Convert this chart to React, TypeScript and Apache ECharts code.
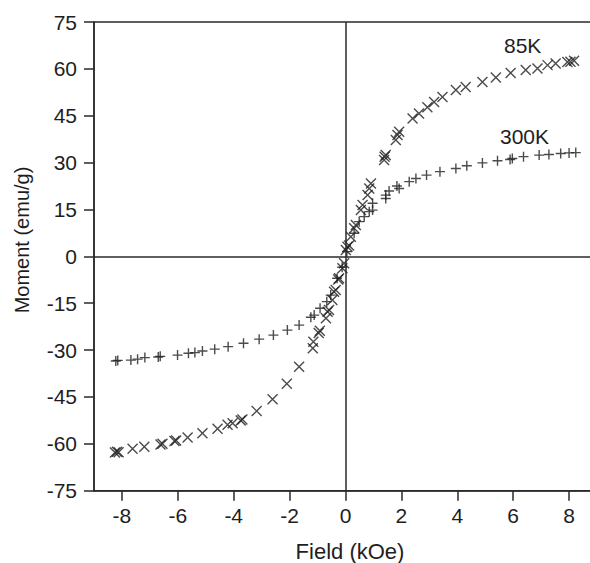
import React, { useEffect, useRef } from "react";
import * as echarts from "echarts";

// Magnetization loops: moment vs applied field at two temperatures
const field85K = [
  -8.25, -8.18, -8.12, -7.62, -7.2, -6.62, -6.55, -6.12, -6.06, -5.65, -5.12, -4.58, -4.22, -4.04,
  -3.75, -3.69, -3.18, -2.61, -2.1, -1.66, -1.17, -1.15, -0.96, -0.92, -0.7, -0.64, -0.59, -0.47,
  -0.41, -0.35, -0.26, -0.23, -0.11, -0.05, 0.01, 0.07, 0.13, 0.19, 0.31, 0.37, 0.55, 0.61, 0.79,
  0.85, 0.91, 1.38, 1.4, 1.44, 1.8, 1.86, 1.92, 2.4, 2.63, 2.93, 3.17, 3.47, 3.95, 4.3, 4.9, 5.38,
  5.91, 6.45, 6.87, 7.23, 7.52, 7.94, 8.05, 8.18,
];
const moment85K = [
  -62.8, -62.5, -62.7, -61.6, -60.9, -60.2, -60.0, -59.1, -58.9, -58.0, -56.6, -55.2, -53.9, -53.4,
  -52.5, -52.2, -49.5, -45.7, -40.8, -35.3, -29.4, -27.3, -24.5, -23.8, -19.8, -17.7, -17.2, -14.0,
  -11.3, -10.8, -7.4, -7.0, -3.8, -2.2, 2.0, 3.1, 3.5, 6.3, 9.0, 10.0, 14.8, 16.4, 19.6, 21.7, 23.3,
  30.8, 31.9, 32.4, 37.2, 38.8, 39.9, 44.1, 45.7, 47.7, 49.4, 51.0, 53.2, 54.2, 55.8, 57.2, 58.7,
  59.6, 60.1, 61.2, 61.7, 62.2, 62.3, 62.6,
];

const field300K = [
  -8.22, -8.15, -7.68, -7.44, -7.18, -6.7, -6.63, -6.01, -5.62, -5.39, -5.12, -4.68, -4.2, -3.65,
  -3.09, -2.58, -2.08, -1.66, -1.24, -1.12, -0.91, -0.67, -0.53, -0.3, -0.12, 0.05, 0.31, 0.49,
  0.67, 0.85, 0.97, 0.97, 1.44, 1.44, 1.56, 1.84, 1.92, 2.28, 2.52, 2.9, 3.38, 3.95, 4.34, 4.9,
  5.44, 5.89, 5.97, 6.37, 6.93, 7.28, 7.7, 8.0, 8.24,
];
const moment300K = [
  -33.5, -33.3, -33.2, -32.9, -32.4, -32.2, -32.0, -31.6, -31.0, -30.8, -30.3, -29.7, -28.9, -27.8,
  -26.5, -25.2, -23.6, -22.0, -19.5, -18.8, -16.6, -14.5, -12.4, -7.0, -3.5, 1.5, 7.4, 11.1, 12.7,
  14.3, 14.8, 17.0, 18.5, 19.6, 20.9, 22.5, 21.7, 23.9, 24.9, 26.0, 27.1, 28.1, 29.0, 29.9, 30.6,
  31.0, 31.3, 31.9, 32.4, 32.6, 32.9, 33.1, 33.2,
];

const xTicks = [-8, -6, -4, -2, 0, 2, 4, 6, 8];
const seriesNames = ["85K", "300K"];

const FONT = "'Liberation Sans', Arial, Helvetica, sans-serif";
const INK = "#1e1e1e";
const AXIS = "#2a2a2a";
const LINE_W = 1.5;

const CROSS = "path://M0,0L10,10M10,0L0,10";
const PLUS = "path://M5,0L5,10M0,5L10,5";

const zip = (xs: number[], ys: number[]) => xs.map((x, i) => [x, ys[i]]);

export default function App() {
  const ref = useRef<HTMLDivElement>(null);

  useEffect(() => {
    if (!ref.current) return;
    const chart = echarts.init(ref.current, undefined, { renderer: "svg" });

    const marker = (symbol: string, size: number) => ({
      type: "scatter" as const,
      symbol,
      symbolSize: size,
      itemStyle: { color: INK, borderColor: INK, borderWidth: 1.4 },
      emphasis: { disabled: true },
    });

    const text = (
      content: string,
      x: number,
      y: number,
      size: number,
      align: "left" | "center",
      rotation = 0
    ) => ({
      type: "text" as const,
      x,
      y,
      rotation,
      style: {
        text: content,
        font: `${size}px ${FONT}`,
        fill: INK,
        textAlign: align,
        textVerticalAlign: "middle",
      },
    });

    chart.setOption({
      animation: false,
      backgroundColor: "#fff",
      grid: {
        left: 94,
        top: 22,
        width: 503,
        height: 468.7,
        containLabel: false,
        outerBoundsMode: "none",
        show: true,
        borderColor: AXIS,
        borderWidth: LINE_W,
        backgroundColor: "transparent",
      },
      xAxis: {
        type: "value",
        min: -9,
        max: 9,
        axisLine: { show: true, onZero: false, lineStyle: { color: AXIS, width: LINE_W } },
        axisTick: {
          show: true,
          customValues: xTicks,
          length: 10,
          inside: false,
          lineStyle: { color: AXIS, width: LINE_W },
        },
        axisLabel: {
          customValues: xTicks,
          margin: 14,
          fontSize: 21,
          fontFamily: FONT,
          color: INK,
        },
        splitLine: { show: false },
      },
      yAxis: {
        type: "value",
        min: -75,
        max: 75,
        interval: 15,
        axisLine: { show: true, onZero: false, lineStyle: { color: AXIS, width: LINE_W } },
        axisTick: { show: true, length: 10, lineStyle: { color: AXIS, width: LINE_W } },
        axisLabel: { margin: 17, fontSize: 21, fontFamily: FONT, color: INK },
        splitLine: { show: false },
      },
      series: [
        {
          ...marker(CROSS, 10),
          name: seriesNames[0],
          data: zip(field85K, moment85K),
          markLine: {
            silent: true,
            symbol: ["none", "none"],
            label: { show: false },
            lineStyle: { type: "solid", color: AXIS, width: LINE_W },
            emphasis: { disabled: true },
            data: [{ xAxis: 0 }, { yAxis: 0 }],
          },
        },
        {
          ...marker(PLUS, 10),
          name: seriesNames[1],
          data: zip(field300K, moment300K),
        },
      ],
      graphic: [
        text(seriesNames[0], 504, 45, 21, "left"),
        text(seriesNames[1], 500, 136, 21, "left"),
        text("Field (kOe)", 350, 551, 22, "center"),
        text("Moment (emu/g)", 22, 240, 20, "center", Math.PI / 2),
      ],
    });

    return () => chart.dispose();
  }, []);

  return (
    <div
      ref={ref}
      style={{ position: "absolute", left: 0, top: 0, width: 590, height: 563, overflow: "hidden" }}
    />
  );
}
